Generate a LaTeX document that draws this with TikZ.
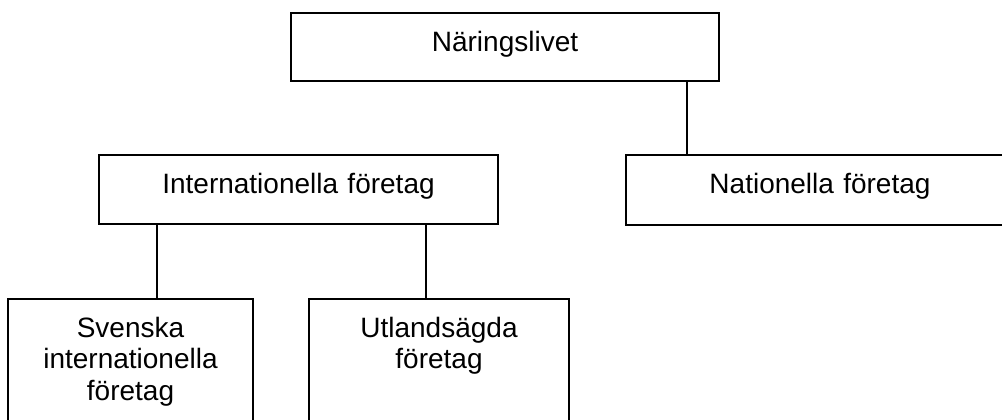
\documentclass[tikz,border=0pt]{standalone}
\usepackage{fontspec}
\setmainfont{Liberation Sans}
\begin{document}
\begin{tikzpicture}[x=0.5pt,y=-0.5pt,
		unitbox/.style={draw,line width=1pt,anchor=north,align=center,inner sep=0pt,
			font=\fontsize{14pt}{15.9pt}\selectfont,text height=19pt,text depth=15pt},
		openbox/.style={unitbox,text depth=100pt}]
		\path[use as bounding box,clip] (0,0) rectangle (1002,419);
		\coordinate (P) at (687,0);
		\coordinate (Q) at (157,0);
		\coordinate (R) at (426,0);
		\node[unitbox,text width=214pt] (N) at (505,12) {Näringslivet};
		\node[unitbox,text width=199.5pt,text depth=15.5pt] (I) at (298.5,154) {Internationella företag};
		\node[unitbox,text width=194pt,text depth=16pt] (Na) at (820,154) {Nationella företag};
		\node[openbox,text width=122.5pt] (S) at (130.5,298) {Svenska\\internationella\\företag};
		\node[openbox,text width=130pt] (U) at (439,298) {Utlandsägda\\företag};
		\draw[line width=1pt] (N.south -| P) to (Na.north -| P);
		\draw[line width=1pt] (I.south -| Q) to (S.north -| Q);
		\draw[line width=1pt] (I.south -| R) to (U.north -| R);
	\end{tikzpicture}
\end{document}
